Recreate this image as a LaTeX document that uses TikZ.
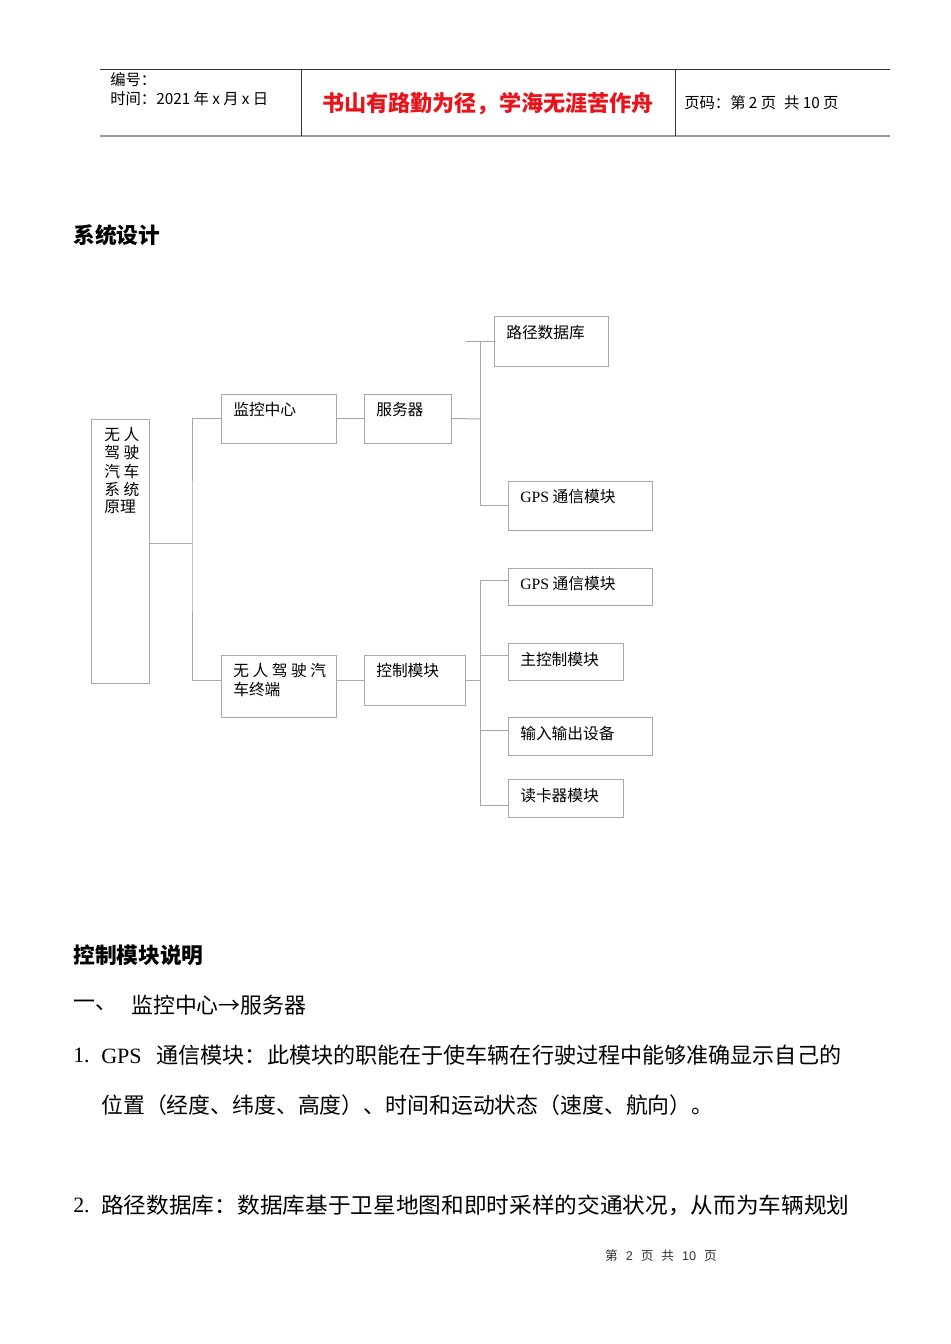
\documentclass[tikz,border=0pt]{standalone}
\usepackage{fontspec}
\setmainfont{Liberation Serif}
\newfontfamily\cjk{Noto Sans CJK SC}
\newfontfamily\hs{Liberation Sans}
\usetikzlibrary{fit}
\definecolor{ln}{HTML}{A8A8A8}
\definecolor{hd}{HTML}{333333}
\definecolor{hb}{HTML}{999999}
\definecolor{rd}{HTML}{E8141C}
\begin{document}
\begin{tikzpicture}[x=0.75pt,y=-0.75pt,
  box/.style={draw=ln,line width=0.75pt,inner sep=0pt},
  conn/.style={draw=ln,line width=0.75pt},
  lbl/.style={anchor=west,inner sep=0pt,font=\cjk\fontsize{11.8}{14}\selectfont},
  hdr/.style={anchor=west,inner sep=0pt,font=\cjk\fontsize{11.5}{13}\selectfont},
  ttl/.style={anchor=west,inner sep=0pt,font=\cjk\bfseries\fontsize{16.3}{18}\selectfont},
  body/.style={anchor=west,inner sep=0pt,font=\cjk\fontsize{16.4}{20}\selectfont}]
\useasboundingbox[fill=white] (0,0) rectangle (950,1344);

% ---------- header ----------
\coordinate (hTL) at (100,69);
\coordinate (hTR) at (890,69);
\coordinate (hBL) at (100,136);
\coordinate (hBR) at (890,136);
\coordinate (v1t) at (301,69);
\coordinate (v1b) at (301,136);
\coordinate (v2t) at (675,69);
\coordinate (v2b) at (675,136);
\draw[hd,line width=0.7pt] (hTL) -- (hTR);
\draw[hb,line width=1.6pt] (hBL) -- (hBR);
\draw[hd,line width=0.7pt] (v1t) -- (v1b);
\draw[hd,line width=0.7pt] (v2t) -- (v2b);
\node[hdr] (hno) at (110,80) {编号：};
\node[hdr] (htime) at (110,99) {时间：2021\hspace{2.5pt}年\hspace{2.5pt}x\hspace{2.5pt}月\hspace{2.5pt}x\hspace{2.5pt}日};
\node[inner sep=0pt,text=rd,font=\cjk\bfseries\fontsize{16.6}{18}\selectfont] (motto) at (488,104) {书山有路勤为径，学海无涯苦作舟};
\node[hdr] (hpage) at (684,103) {页码：第\hspace{2.5pt}2\hspace{2.5pt}页\hspace{6pt}共\hspace{2.5pt}10\hspace{2.5pt}页};

% ---------- titles ----------
\node[ttl] (title1) at (73,235) {系统设计};

% ---------- diagram boxes ----------
\node[box, fit={(91,419)(149,683)}] (root) {};
\node[box, fit={(221,394)(336,443)}] (mon) {};
\node[box, fit={(364,394)(451,443)}] (srv) {};
\node[box, fit={(494,316)(608,366)}] (db) {};
\node[box, fit={(508,481)(652,530)}] (gpsa) {};
\node[box, fit={(221,655)(336,717)}] (term) {};
\node[box, fit={(364,655)(465,705)}] (ctl) {};
\node[box, fit={(508,568)(652,605)}] (gpsb) {};
\node[box, fit={(508,643)(623,680)}] (mainc) {};
\node[box, fit={(508,717)(652,755)}] (io) {};
\node[box, fit={(508,779)(623,817)}] (card) {};

% labels
\node[lbl] (r1) at (104,435) {无 人};
\node[lbl] (r2) at (104,453) {驾 驶};
\node[lbl] (r3) at (104,471) {汽 车};
\node[lbl] (r4) at (104,489) {系 统};
\node[lbl] (r5) at (104,507) {原理};
\node[lbl] (tmon) at (233,410) {监控中心};
\node[lbl] (tsrv) at (376,410) {服务器};
\node[lbl] (tdb) at (506,333) {路径数据库};
\node[lbl] (tgpsa) at (520,497) {{\rmfamily GPS} 通信模块};
\node[lbl] (tterm1) at (233,671) {无 人 驾 驶 汽};
\node[lbl] (tterm2) at (233,689) {车终端};
\node[lbl] (tctl) at (376,671) {控制模块};
\node[lbl] (tgpsb) at (520,584) {{\rmfamily GPS} 通信模块};
\node[lbl] (tmain) at (520,660) {主控制模块};
\node[lbl] (tio) at (520,734) {输入输出设备};
\node[lbl] (tcard) at (520,796) {读卡器模块};

% connectors
\coordinate (j1) at (192,543);
\draw[conn] (root.east |- j1) -- (j1);
\draw[conn] (mon.west) -| (j1) |- (term.west |- ctl.west);
\draw[conn] (mon.east) -- (srv.west);
\coordinate (j2) at (480,419);
\draw[conn] (srv.east) -- (j2);
\coordinate (dbstub) at (466,341);
\draw[conn] (dbstub) -- (dbstub -| db.west);
\draw[conn] (j2 |- dbstub) -- (j2 |- gpsa.west) -- (gpsa.west);
\draw[conn] (term.east |- ctl.west) -- (ctl.west);
\coordinate (j3) at (480,680);
\draw[conn] (ctl.east) -- (j3);
\coordinate (t1) at (480,580);
\coordinate (t2) at (480,655);
\coordinate (t3) at (480,730);
\coordinate (t4) at (480,805);
\draw[conn] (t1) -- (t4);
\draw[conn] (t1) -- (t1 -| gpsb.west);
\draw[conn] (t2) -- (t2 -| mainc.west);
\draw[conn] (t3) -- (t3 -| io.west);
\draw[conn] (t4) -- (t4 -| card.west);

% ---------- body text ----------
\node[ttl] (title2) at (73,955) {控制模块说明};
\node[body] (s1a) at (73,1005) {一、};
\node[body] (s1b) at (131,1005) {监控中心→服务器};
\node[body] (n1) at (73,1055) {\rmfamily 1.};
\node[body,transform shape,xscale=1.01] (l1) at (101,1055) {{\rmfamily GPS}\hspace{11pt}通信模块：此模块的职能在于使车辆在行驶过程中能够准确显示自己的};
\node[body] (l2) at (101,1105) {位置（经度、纬度、高度）、时间和运动状态（速度、航向）。};
\node[body] (n2) at (73,1205) {\rmfamily 2.};
\node[body,transform shape,xscale=1.037] (l3) at (101,1205) {路径数据库：数据库基于卫星地图和即时采样的交通状况，从而为车辆规划};

% footer
\node[inner sep=0pt,text=hd,font=\cjk\fontsize{9.5}{11}\selectfont] (foot) at (661,1256) {第\hspace{6pt}{\hs 2}\hspace{6pt}页\hspace{6pt}共\hspace{6pt}{\hs 10}\hspace{6pt}页};
\end{tikzpicture}
\end{document}
